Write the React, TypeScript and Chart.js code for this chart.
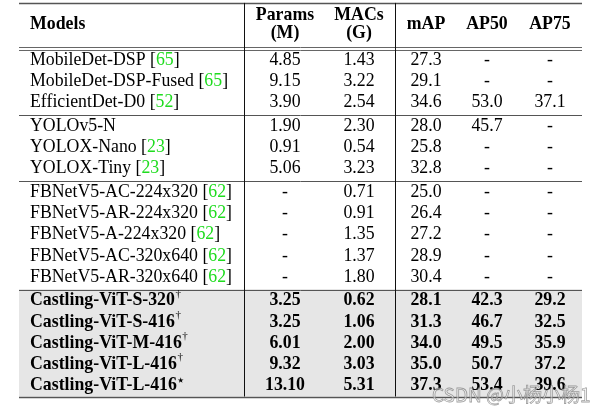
import React, { useEffect, useRef } from 'react';
import { Chart, registerables } from 'chart.js';

Chart.register(...registerables);

// ---------- data ----------
const headerLines: string[][] = [['Models'], ['Params', '(M)'], ['MACs', '(G)'], ['mAP'], ['AP50'], ['AP75']];
const models = [
  'MobileDet-DSP', 'MobileDet-DSP-Fused', 'EfficientDet-D0',
  'YOLOv5-N', 'YOLOX-Nano', 'YOLOX-Tiny',
  'FBNetV5-AC-224x320', 'FBNetV5-AR-224x320', 'FBNetV5-A-224x320', 'FBNetV5-AC-320x640', 'FBNetV5-AR-320x640',
  'Castling-ViT-S-320', 'Castling-ViT-S-416', 'Castling-ViT-M-416', 'Castling-ViT-L-416', 'Castling-ViT-L-416',
];
const citations = ['65', '65', '52', '', '23', '23', '62', '62', '62', '62', '62', '', '', '', '', ''];
const marks = ['', '', '', '', '', '', '', '', '', '', '', '†', '†', '†', '†', '⋆'];
const groups = [0, 0, 0, 1, 1, 1, 2, 2, 2, 2, 2, 3, 3, 3, 3, 3];
const params: (number | null)[] = [4.85, 9.15, 3.9, 1.9, 0.91, 5.06, null, null, null, null, null, 3.25, 3.25, 6.01, 9.32, 13.1];
const macs: (number | null)[] = [1.43, 3.22, 2.54, 2.3, 0.54, 3.23, 0.71, 0.91, 1.35, 1.37, 1.8, 0.62, 1.06, 2.0, 3.03, 5.31];
const mAP: (number | null)[] = [27.3, 29.1, 34.6, 28.0, 25.8, 32.8, 25.0, 26.4, 27.2, 28.9, 30.4, 28.1, 31.3, 34.0, 35.0, 37.3];
const ap50: (number | null)[] = [null, null, 53.0, 45.7, null, null, null, null, null, null, null, 42.3, 46.7, 49.5, 50.7, 53.4];
const ap75: (number | null)[] = [null, null, 37.1, null, null, null, null, null, null, null, null, 29.2, 32.5, 35.9, 37.2, 39.6];
const decimals = [2, 2, 1, 1, 1];
const highlightGroup = 3;
const watermark = 'CSDN @小杨小杨1';

// ---------- layout / style ----------
const W = 605;
const H = 411;
const ROW_PX = 21.3;
const FIRST_ROW_PX = 60;
const GROUP_GAP = 0.1;
const Y_MIN = -FIRST_ROW_PX / ROW_PX;
const Y_MAX = Y_MIN + H / ROW_PX;
const TABLE_LEFT = 19;
const TABLE_RIGHT = 582;
const NAME_X = 30;
const COL_CENTERS = [285, 359, 426, 487, 550];
const VLINES = [244, 395];
const FONT = '"Liberation Serif", "Times New Roman", serif';
const FS = 17.8;
const GREEN = '#1fdc1f';

const rowValue = (i: number) => i + groups[i] * GROUP_GAP;

const tablePlugin = {
  id: 'tablePlugin',
  beforeDraw(chart: any) {
    const { ctx } = chart;
    ctx.save();
    ctx.fillStyle = '#fff';
    ctx.fillRect(0, 0, chart.width, chart.height);
    ctx.restore();
  },
  afterDraw(chart: any) {
    const { ctx } = chart;
    const xs = chart.scales.x;
    const ys = chart.scales.y;
    const X = (v: number) => xs.getPixelForValue(v);
    const Y = (v: number) => ys.getPixelForValue(v);
    const n = models.length;
    const topV = -2.68;
    const lastV = rowValue(n - 1);
    const bottomV = lastV + 0.5;
    const headDbl1 = -0.61;
    const headDbl2 = -0.47;

    ctx.save();
    // highlight fill
    const firstHi = groups.indexOf(highlightGroup);
    const hiTop = (rowValue(firstHi - 1) + rowValue(firstHi)) / 2;
    ctx.fillStyle = '#e6e6e6';
    ctx.fillRect(X(TABLE_LEFT), Y(hiTop), X(TABLE_RIGHT) - X(TABLE_LEFT), Y(bottomV) - Y(hiTop));

    // horizontal lines
    const hline = (v: number, w: number, c: string) => {
      ctx.beginPath();
      ctx.strokeStyle = c;
      ctx.lineWidth = w;
      ctx.moveTo(X(TABLE_LEFT), Math.round(Y(v)) + 0.5);
      ctx.lineTo(X(TABLE_RIGHT), Math.round(Y(v)) + 0.5);
      ctx.stroke();
    };
    hline(topV, 1.3, '#555');
    hline(headDbl1, 1, '#666');
    hline(headDbl2, 1, '#666');
    for (let i = 1; i < n; i++) {
      if (groups[i] !== groups[i - 1]) {
        hline((rowValue(i - 1) + rowValue(i)) / 2 + 0.03, 1, '#555');
      }
    }
    hline(bottomV, 1.3, '#555');

    // vertical lines
    ctx.strokeStyle = '#111';
    ctx.lineWidth = 1;
    for (const vx of VLINES) {
      ctx.beginPath();
      ctx.moveTo(Math.round(X(vx)) + 0.5, Y(topV));
      ctx.lineTo(Math.round(X(vx)) + 0.5, Y(bottomV));
      ctx.stroke();
    }

    // header
    ctx.fillStyle = '#000';
    ctx.textBaseline = 'middle';
    ctx.font = `bold ${FS}px ${FONT}`;
    const headSingle = -1.69;
    const headTwo = [-2.08, -1.25];
    headerLines.forEach((lines, c) => {
      lines.forEach((t, k) => {
        const yv = lines.length === 1 ? headSingle : headTwo[k];
        if (c === 0) {
          ctx.textAlign = 'left';
          ctx.fillText(t, X(NAME_X), Y(yv));
        } else {
          ctx.textAlign = 'center';
          ctx.fillText(t, X(COL_CENTERS[c - 1]), Y(yv));
        }
      });
    });

    // rows
    const cols = [params, macs, mAP, ap50, ap75];
    for (let i = 0; i < n; i++) {
      const bold = groups[i] === highlightGroup;
      const f = `${bold ? 'bold ' : ''}${FS}px ${FONT}`;
      const y = Y(rowValue(i));
      ctx.font = f;
      ctx.textAlign = 'left';
      ctx.fillStyle = '#000';
      let x = X(NAME_X);
      ctx.fillText(models[i], x, y);
      x += ctx.measureText(models[i]).width;
      if (citations[i]) {
        const pre = ' [';
        ctx.fillText(pre, x, y);
        x += ctx.measureText(pre).width;
        ctx.fillStyle = GREEN;
        ctx.fillText(citations[i], x, y);
        x += ctx.measureText(citations[i]).width;
        ctx.fillStyle = '#000';
        ctx.fillText(']', x, y);
      }
      if (marks[i]) {
        const star = marks[i] === '⋆';
        ctx.font = star ? `15px "DejaVu Sans", sans-serif` : `11px ${FONT}`;
        ctx.fillText(marks[i], x + (star ? -1 : 0.5), y - (star ? 5 : 7));
        ctx.font = f;
      }
      ctx.textAlign = 'center';
      cols.forEach((arr, c) => {
        const v = arr[i];
        const t = v === null ? '-' : v.toFixed(decimals[c]);
        ctx.fillText(t, X(COL_CENTERS[c]), y);
      });
    }

    // watermark
    ctx.font = `19px "Noto Sans CJK SC", "DejaVu Sans", sans-serif`;
    ctx.textAlign = 'left';
    ctx.lineWidth = 0.8;
    ctx.strokeStyle = 'rgba(120,120,120,0.7)';
    ctx.fillStyle = 'rgba(255,255,255,0.5)';
    ctx.fillText(watermark, X(432), Y(15.72));
    ctx.strokeText(watermark, X(432), Y(15.72));
    ctx.restore();
  },
};

export default function App() {
  const ref = useRef<HTMLCanvasElement | null>(null);
  useEffect(() => {
    if (!ref.current) return;
    const chart = new Chart(ref.current, {
      type: 'scatter',
      data: { datasets: [] },
      options: {
        animation: false,
        responsive: false,
        devicePixelRatio: 1,
        layout: { padding: 0 },
        plugins: { legend: { display: false }, tooltip: { enabled: false } },
        scales: {
          x: { type: 'linear', min: 0, max: W, display: false },
          y: { type: 'linear', min: Y_MIN, max: Y_MAX, reverse: true, display: false },
        },
      },
      plugins: [tablePlugin],
    });
    return () => chart.destroy();
  }, []);
  return (
    <div style={{ position: 'fixed', left: 0, top: 0, width: W, height: H, background: '#fff' }}>
      <canvas ref={ref} width={W} height={H} style={{ display: 'block' }} />
    </div>
  );
}
